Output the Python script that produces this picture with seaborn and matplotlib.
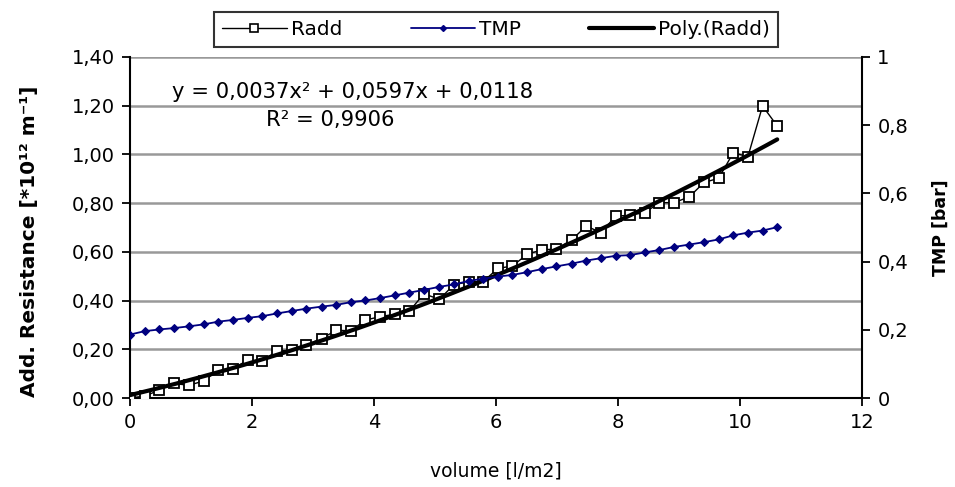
import matplotlib
matplotlib.use("Agg")
import matplotlib.pyplot as plt
import numpy as np
import pandas as pd
import seaborn as sns
from matplotlib.lines import Line2D

# ---------------- data ----------------
volume = [0.00, 0.24, 0.48, 0.72, 0.96, 1.21, 1.45, 1.69, 1.93, 2.17,
          2.41, 2.65, 2.89, 3.14, 3.38, 3.62, 3.86, 4.10, 4.34, 4.58,
          4.82, 5.07, 5.31, 5.55, 5.79, 6.03, 6.27, 6.51, 6.75, 6.99,
          7.24, 7.48, 7.72, 7.96, 8.20, 8.44, 8.68, 8.92, 9.17, 9.41,
          9.65, 9.89, 10.13, 10.37, 10.61]

radd = [0.000, 0.008, 0.032, 0.060, 0.052, 0.070, 0.115, 0.120, 0.156, 0.150,
        0.194, 0.196, 0.218, 0.244, 0.278, 0.276, 0.320, 0.334, 0.344, 0.357,
        0.428, 0.405, 0.465, 0.477, 0.478, 0.532, 0.542, 0.590, 0.608, 0.612,
        0.649, 0.706, 0.679, 0.746, 0.751, 0.761, 0.802, 0.802, 0.826, 0.885,
        0.902, 1.007, 0.991, 1.199, 1.117]

tmp = [0.186, 0.196, 0.201, 0.205, 0.210, 0.216, 0.224, 0.229, 0.235, 0.240,
       0.248, 0.255, 0.262, 0.268, 0.273, 0.281, 0.286, 0.293, 0.301, 0.309,
       0.317, 0.326, 0.333, 0.343, 0.350, 0.356, 0.361, 0.369, 0.378, 0.386,
       0.394, 0.403, 0.410, 0.417, 0.419, 0.427, 0.434, 0.443, 0.450, 0.457,
       0.465, 0.477, 0.485, 0.491, 0.501]

poly_coef = [0.0037, 0.0597, 0.0118]   # trendline shown on chart (x^2, x, 1)

left_ticks = [0.0, 0.2, 0.4, 0.6, 0.8, 1.0, 1.2, 1.4]
left_ticklabels = ["0,00", "0,20", "0,40", "0,60", "0,80", "1,00", "1,20", "1,40"]
right_ticks = [0.0, 0.2, 0.4, 0.6, 0.8, 1.0]
right_ticklabels = ["0", "0,2", "0,4", "0,6", "0,8", "1"]
x_ticks = [0, 2, 4, 6, 8, 10, 12]

eq_text = "y = 0,0037x² + 0,0597x + 0,0118"
r2_text = "R² = 0,9906"

# ---------------- frames ----------------
df = pd.DataFrame({"volume": volume, "Radd": radd, "TMP": tmp})
x_fit = np.linspace(volume[0], volume[-1], 200)
df_fit = pd.DataFrame({"volume": x_fit, "fit": np.polyval(poly_coef, x_fit)})

sns.set_style("white")
plt.rcParams["font.family"] = ["DejaVu Sans"]
plt.rcParams["text.color"] = "black"
plt.rcParams["axes.labelcolor"] = "black"
plt.rcParams["xtick.color"] = "black"
plt.rcParams["ytick.color"] = "black"

fig = plt.figure(figsize=(9.55, 4.87), dpi=100)
ax = fig.add_axes([130 / 955, 1 - 398 / 487, (862 - 130) / 955, (398 - 57) / 487])
ax2 = ax.twinx()

ax.set_axisbelow(True)
ax.yaxis.grid(True, color="#999999", linewidth=1.8)
ax.xaxis.grid(False)

# Radd
sns.lineplot(data=df, x="volume", y="Radd", ax=ax, color="black", linewidth=1.0,
             marker="s", markersize=6.5, markerfacecolor="white",
             markeredgecolor="black", markeredgewidth=1.3, estimator=None,
             sort=False, legend=False, zorder=3)
# trendline
sns.lineplot(data=df_fit, x="volume", y="fit", ax=ax, color="black", linewidth=3.0,
             estimator=None, legend=False, zorder=4)
# TMP on secondary axis
sns.lineplot(data=df, x="volume", y="TMP", ax=ax2, color="#000080", linewidth=1.3,
             marker="D", markersize=4, markerfacecolor="#000080",
             markeredgecolor="#000080", estimator=None, sort=False,
             legend=False, zorder=5)

ax.set_xlim(0, 12)
ax.set_ylim(0, 1.4)
ax2.set_ylim(0, 1.0)

ax.set_xticks(x_ticks)
ax.set_xticklabels([str(t) for t in x_ticks])
ax.set_yticks(left_ticks)
ax.set_yticklabels(left_ticklabels)
ax2.set_yticks(right_ticks)
ax2.set_yticklabels(right_ticklabels)

for a in (ax, ax2):
    for s in a.spines.values():
        s.set_visible(False)
ax.spines["left"].set_visible(True)
ax.spines["bottom"].set_visible(True)
ax2.spines["right"].set_visible(True)
for s in (ax.spines["left"], ax.spines["bottom"], ax2.spines["right"]):
    s.set_color("black")
    s.set_linewidth(1.5)

ax.tick_params(axis="both", direction="out", length=6, width=1.3, color="black",
               labelsize=14, pad=5, left=True, bottom=True)
ax2.tick_params(axis="y", direction="out", length=6, width=1.3, color="black",
                labelsize=14, pad=5, right=True)

ax.set_xlabel("volume [l/m2]", fontsize=13.5)
ax.set_ylabel("Add. Resistance [*10¹² m⁻¹]", fontsize=14.5, fontweight="bold")
ax2.set_ylabel("TMP [bar]", fontsize=12.5, fontweight="bold", rotation=90)
ax.xaxis.set_label_coords(0.5, -0.185)
ax.yaxis.set_label_coords(-0.125, 0.46)
ax2.yaxis.set_label_coords(1.095, 0.5)

# equation text
fig.text(172 / 955, 1 - 92 / 487, eq_text, fontsize=15.2, ha="left", va="center")
fig.text(330 / 955, 1 - 120 / 487, r2_text, fontsize=15.2, ha="center", va="center")

# legend
handles = [
    Line2D([], [], color="black", linewidth=1.0, marker="s", markersize=6,
           markerfacecolor="white", markeredgecolor="black", markeredgewidth=1.2),
    Line2D([], [], color="#000080", linewidth=1.3, marker="D", markersize=3,
           markerfacecolor="#000080"),
    Line2D([], [], color="black", linewidth=3.0),
]
leg = fig.legend(handles, ["Radd", "TMP", "Poly.(Radd)"], loc="center",
                 bbox_to_anchor=(496 / 955, 1 - 29.5 / 487), ncol=3, fontsize=14.5,
                 frameon=True, fancybox=False, edgecolor="black",
                 handlelength=3.2, handletextpad=0.2, columnspacing=3.4,
                 borderpad=0.4, borderaxespad=0)
leg.get_frame().set_linewidth(1.5)

fig.savefig("out.png", dpi=100)
